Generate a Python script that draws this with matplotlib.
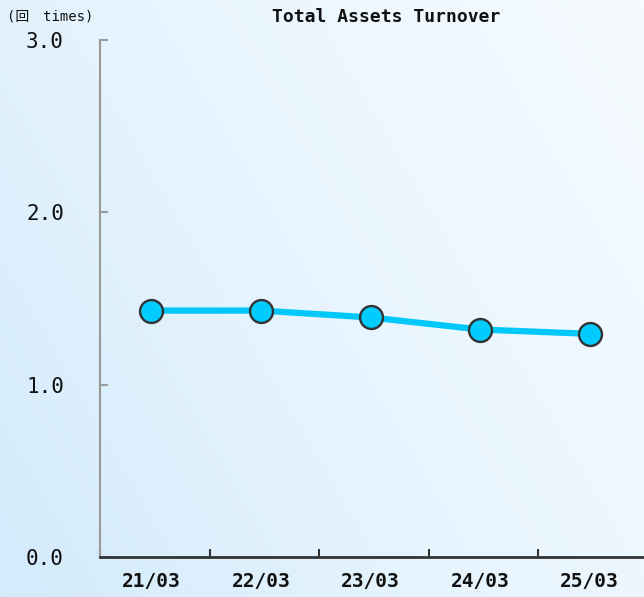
import numpy as np
import matplotlib
matplotlib.use("Agg")
import matplotlib.pyplot as plt
from matplotlib.colors import LinearSegmentedColormap

categories = ["21/03", "22/03", "23/03", "24/03", "25/03"]
values = [1.43, 1.43, 1.39, 1.32, 1.295]
y_ticks = [0.0, 1.0, 2.0, 3.0]
y_labels = ["0.0", "1.0", "2.0", "3.0"]
title = "Total Assets Turnover"
unit_label = "(回　times)"

fam = ["DejaVu Sans Mono", "Noto Sans CJK JP"]

W, H = 644, 597
fig = plt.figure(figsize=(W / 100, H / 100), dpi=100)

# background gradient
bg = fig.add_axes([0, 0, 1, 1], zorder=-10)
xx, yy = np.meshgrid(np.linspace(0, 1, 200), np.linspace(0, 1, 200))
t = np.clip(0.65 * xx + 0.35 * (1 - yy), 0, 1)
cmap = LinearSegmentedColormap.from_list("bg", ["#d3ebfb", "#e8f5fe", "#f6fbff"])
bg.imshow(t, cmap=cmap, aspect="auto", extent=[0, 1, 0, 1], origin="upper")
bg.axis("off")

ax = fig.add_axes([100 / W, 40 / H, 1 - 100 / W, (557 - 40) / H])
ax.patch.set_alpha(0)

x = np.arange(len(categories))
ax.plot(x, values, color="#00c8f8", lw=4.5, solid_capstyle="round", zorder=2)
ax.plot(x, values, "o", ms=16.5, mfc="#00ccff", mec="#333333", mew=1.7, zorder=3)

ax.set_xlim(-0.468, len(categories) - 0.505)
ax.set_ylim(0, 3.0)

for s in ["top", "right"]:
    ax.spines[s].set_visible(False)
ax.spines["left"].set_color("#999999")
ax.spines["left"].set_linewidth(1.5)
ax.spines["bottom"].set_color("#333333")
ax.spines["bottom"].set_linewidth(2)

ax.set_xticks(np.arange(len(categories)) - 0.468)
ax.set_xticklabels([])
ax.tick_params(axis="x", which="major", direction="in", length=6, width=1.5, color="#333333")
ax.set_xticks(x, minor=True)
ax.set_xticklabels(categories, minor=True, fontfamily=fam, fontsize=14, fontweight="bold", color="#111111")
ax.tick_params(axis="x", which="minor", length=0, pad=11)

ax.set_yticks(y_ticks)
ax.set_yticklabels(y_labels, fontfamily=fam, fontsize=15, color="#111111")
ax.tick_params(axis="y", direction="in", length=6, width=1.5, color="#999999", pad=26)

fig.text(386 / W, 1 - 17 / H, title, ha="center", va="center", fontfamily=fam,
         fontsize=13, fontweight="bold", color="#111111")
fig.text(7 / W, 1 - 17 / H, unit_label, ha="left", va="center", fontfamily=fam,
         fontsize=10, color="#111111")

fig.savefig("out.png", dpi=100)
